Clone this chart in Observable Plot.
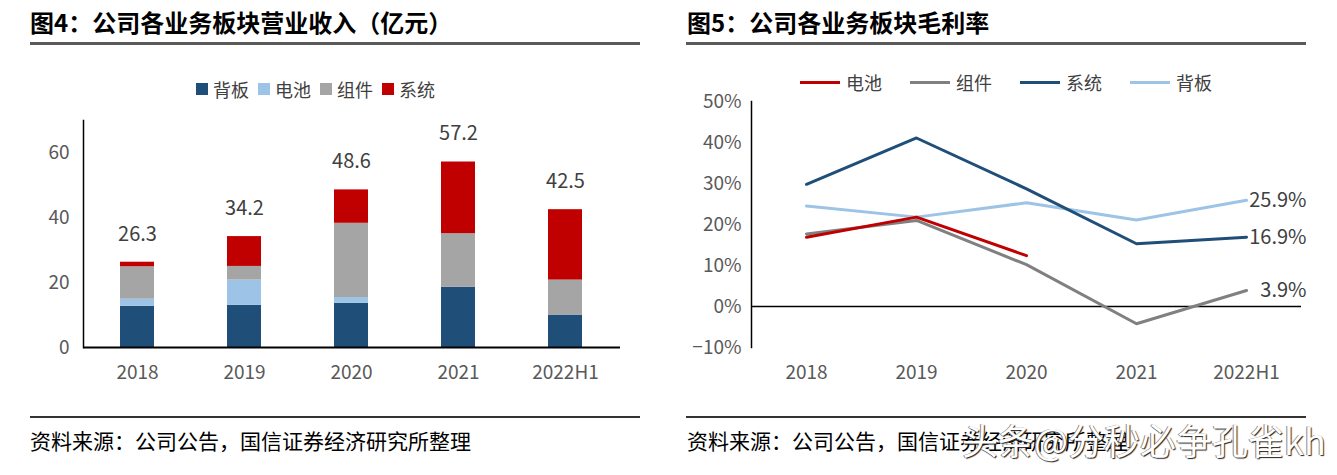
<!DOCTYPE html>
<html><head><meta charset="utf-8">
<script src="https://cdn.jsdelivr.net/npm/d3@7"></script>
<script src="https://cdn.jsdelivr.net/npm/@observablehq/plot@0.6"></script>
<style>
body{margin:0;width:1337px;height:475px;background:#fff;position:relative;overflow:hidden;font-family:"Noto Sans CJK SC","Noto Sans",sans-serif;}
.abs{position:absolute;}
.title{font-size:24px;font-weight:bold;color:#000;white-space:nowrap;line-height:1;}
.rule{height:3px;background:#5a5a5a;}
.rule2{height:2px;background:#333;}
.src{font-size:21px;color:#000;white-space:nowrap;line-height:1;}
.legend{font-size:18px;color:#404040;white-space:nowrap;display:flex;align-items:center;line-height:1;}
.wm{font-size:36px;color:#fff;white-space:nowrap;line-height:1;text-shadow:1px 1px 1px #222,-1px 0 0 #888;}
svg{overflow:visible;}
</style></head><body>
<script>
// ---- data ----
const years = ["2018", "2019", "2020", "2021", "2022H1"];

// Fig 4: revenue by segment (亿元)
const revSeries = ["背板", "电池", "组件", "系统"];
const revColors = ["#1f4e79", "#9dc3e6", "#a5a5a5", "#c00000"];
const revBacksheet = [12.7, 13.0, 13.6, 18.6, 10.0];
const revCell = [2.2, 7.8, 1.8, 0, 0];
const revModule = [10.0, 4.2, 22.9, 16.5, 10.8];
const revSystem = [1.4, 9.2, 10.3, 22.1, 21.7];
const revTotals = [26.3, 34.2, 48.6, 57.2, 42.5];
const revTicks = [0, 20, 40, 60];

// Fig 5: gross margin by segment (%)
const marSeries = ["电池", "组件", "系统", "背板"];
const marColors = ["#c00000", "#808080", "#1f4e79", "#9dc3e6"];
const marCell = [16.9, 21.8, 12.4, null, null];
const marModule = [17.7, 21.0, 10.2, -4.2, 3.9];
const marSystem = [29.8, 41.1, 28.7, 15.3, 16.9];
const marBacksheet = [24.5, 21.8, 25.3, 21.1, 25.9];
const marTicks = [-10, 0, 10, 20, 30, 40, 50];

const titleL = "图4：公司各业务板块营业收入（亿元）";
const titleR = "图5：公司各业务板块毛利率";
const source = "资料来源：公司公告，国信证券经济研究所整理";
const watermark = "头条@分秒必争孔雀kh";

// ---- helpers ----
function el(tag, cls, css, text) {
  const e = document.createElement(tag);
  if (cls) e.className = cls;
  Object.assign(e.style, css);
  if (text != null) e.textContent = text;
  document.body.appendChild(e);
  return e;
}
const font = "'Noto Sans CJK SC','Noto Sans',sans-serif";

// ---- left panel ----
el("div", "abs title", {left: "30px", top: "10px"}, titleL);
el("div", "abs rule", {left: "30px", top: "42px", width: "610px"});
const legL = el("div", "abs legend", {left: "196px", top: "80px"});
revSeries.forEach((s, i) => {
  const sw = document.createElement("span");
  Object.assign(sw.style, {display: "inline-block", width: "12px", height: "12px", background: revColors[i], marginRight: "5px"});
  const t = document.createElement("span");
  t.textContent = s;
  t.style.marginRight = "9px";
  legL.appendChild(sw); legL.appendChild(t);
});

const revArrays = [revBacksheet, revCell, revModule, revSystem];
const revData = [];
years.forEach((y, j) => revSeries.forEach((s, i) => {
  if (revArrays[i][j] > 0) revData.push({year: y, series: s, value: revArrays[i][j]});
}));
const totData = years.map((y, j) => ({year: y, total: revTotals[j]}));

const plotL = Plot.plot({
  width: 660, height: 300,
  marginLeft: 83, marginRight: 40, marginTop: 20, marginBottom: 53,
  style: {fontFamily: font, fontSize: "19px", color: "#595959", background: "transparent"},
  x: {domain: years, paddingInner: 0.68, paddingOuter: 0.34, label: null},
  y: {domain: [0, 70], label: null},
  color: {domain: revSeries, range: revColors},
  marks: [
    Plot.barY(revData, {x: "year", y: "value", fill: "series", order: revSeries}),
    Plot.text(totData, {x: "year", y: "total", text: d => d.total.toFixed(1), dy: -28, fontSize: 20, fill: "#404040"}),
    Plot.axisX({tickSize: 0, tickPadding: 18, label: null, color: "#595959"}),
    Plot.axisY({ticks: revTicks, tickSize: 0, tickPadding: 14, label: null, color: "#595959"}),
    Plot.frame({anchor: "left", stroke: "#000", strokeWidth: 1.5}),
    Plot.ruleY([0], {stroke: "#000", strokeWidth: 2})
  ]
});
const wL = el("div", "abs", {left: "0px", top: "100px"});
wL.appendChild(plotL);

el("div", "abs rule2", {left: "30px", top: "416px", width: "610px"});
el("div", "abs src", {left: "30px", top: "430px"}, source);

// ---- right panel ----
el("div", "abs title", {left: "687px", top: "10px"}, titleR);
el("div", "abs rule", {left: "686px", top: "42px", width: "620px"});
const legR = el("div", "abs legend", {left: "800px", top: "73px"});
marSeries.forEach((s, i) => {
  const sw = document.createElement("span");
  Object.assign(sw.style, {display: "inline-block", width: "40px", height: "3px", background: marColors[i], marginRight: "6px"});
  const t = document.createElement("span");
  t.textContent = s;
  t.style.marginRight = "28px";
  legR.appendChild(sw); legR.appendChild(t);
});

const marArrays = [marCell, marModule, marSystem, marBacksheet];
const marData = [];
marSeries.forEach((s, i) => years.forEach((y, j) => {
  if (marArrays[i][j] != null) marData.push({year: y, series: s, value: marArrays[i][j]});
}));
const drawOrder = ["组件", "背板", "系统", "电池"];
const endLabels = marData.filter(d => d.year === years[years.length - 1]);

const plotR = Plot.plot({
  width: 667, height: 315,
  marginLeft: 81, marginRight: 36, marginTop: 16, marginBottom: 53,
  style: {fontFamily: font, fontSize: "19px", color: "#595959", background: "transparent"},
  x: {type: "point", domain: years, padding: 0.5, label: null},
  y: {domain: [-10, 50], label: null},
  color: {domain: marSeries, range: marColors},
  marks: [
    Plot.ruleY([0], {stroke: "#000", strokeWidth: 1.5}),
    ...drawOrder.map(s => Plot.line(marData.filter(d => d.series === s), {x: "year", y: "value", stroke: "series", strokeWidth: 3})),
    Plot.text(endLabels, {x: "year", y: "value", text: d => d.value.toFixed(1) + "%", textAnchor: "end", dx: 60, fontSize: 20, fill: "#404040"}),
    Plot.axisX({tickSize: 0, tickPadding: 18, label: null, color: "#595959"}),
    Plot.axisY({ticks: marTicks, tickFormat: d => (d < 0 ? "−" : "") + Math.abs(d) + "%", tickSize: 0, tickPadding: 10, label: null, color: "#595959"}),
    Plot.frame({anchor: "left", stroke: "#000", strokeWidth: 1.5})
  ]
});
const wR = el("div", "abs", {left: "670px", top: "85px"});
wR.appendChild(plotR);

el("div", "abs rule2", {left: "686px", top: "416px", width: "620px"});
el("div", "abs src", {left: "687px", top: "430px"}, source);
el("div", "abs wm", {left: "962px", top: "421px"}, watermark);
</script>
</body></html>
